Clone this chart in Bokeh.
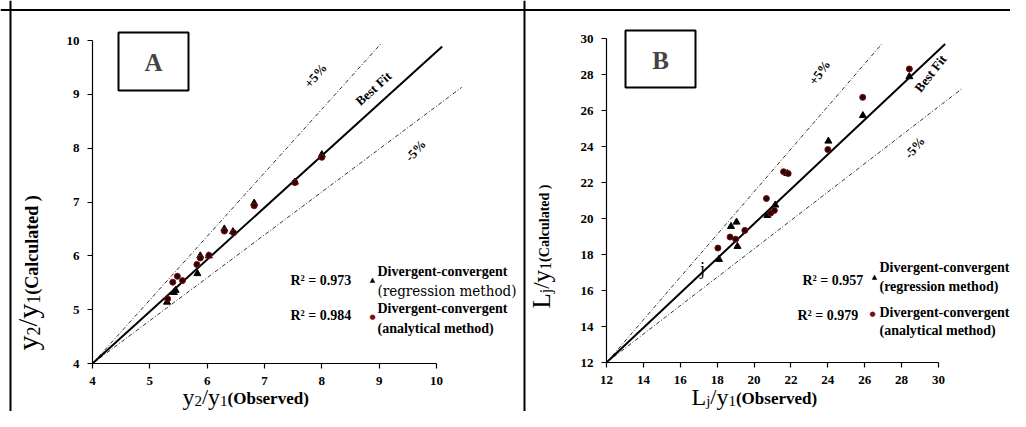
import math
from bokeh.plotting import figure
from bokeh.models import Range1d, LinearAxis, FixedTicker, Label, Span, BoxAnnotation
from bokeh.embed import file_html
from bokeh.resources import INLINE

# ---------------- data ----------------
a_ticks = [4, 5, 6, 7, 8, 9, 10]
b_ticks = [12, 14, 16, 18, 20, 22, 24, 26, 28, 30]

# Panel A : y2/y1  (regression method = triangles, analytical = circles)
a_reg_x = [5.30, 5.42, 5.45, 5.83, 5.88, 6.03, 6.30, 6.45, 6.82, 7.53, 8.00]
a_reg_y = [5.14, 5.32, 5.36, 5.67, 6.00, 6.00, 6.50, 6.45, 6.98, 7.37, 7.88]
a_ana_x = [5.31, 5.40, 5.48, 5.57, 5.82, 5.88, 6.03, 6.30, 6.46, 6.82, 7.53, 8.00]
a_ana_y = [5.20, 5.51, 5.62, 5.54, 5.84, 5.96, 6.01, 6.46, 6.43, 6.93, 7.36, 7.83]

# Panel B : Lj/y1
b_reg_x = [18.10, 18.75, 19.05, 19.10, 20.72, 21.15, 21.80, 24.03, 25.90, 28.42]
b_reg_y = [17.73, 19.56, 19.80, 18.45, 20.17, 20.75, 22.50, 24.30, 25.72, 27.88]
b_ana_x = [18.04, 18.70, 19.00, 19.50, 20.67, 20.90, 21.10, 21.60, 21.85, 24.00, 25.89, 28.42]
b_ana_y = [18.36, 18.97, 18.85, 19.34, 21.11, 20.30, 20.45, 22.60, 22.50, 23.83, 26.73, 28.31]

a_r2 = ["0.973", "0.984"]
b_r2 = ["0.957", "0.979"]

# reference lines (end points)
a_best_x, a_best_y = [4, 10.10], [4, 9.89]
a_plus_x, a_plus_y = [4, 9.03], [4, 9.94]
a_minus_x, a_minus_y = [4, 10.44], [4, 9.13]
b_best_x, b_best_y = [12, 30.36], [12, 29.69]
b_plus_x, b_plus_y = [12, 26.92], [12, 29.69]
b_minus_x, b_minus_y = [12, 31.32], [12, 27.25]

# ---------------- layout ----------------
W, H = 1010, 411
OX, OY = 0, 0          # offset of the canvas in the photographed picture


def hrange(v0, v1, p0, p1):
    s = (p1 - p0) / (v1 - v0)
    start = v0 - (p0 - OX) / s
    return start, start + W / s, s


def vrange(v0, v1, p0, p1):
    s = (p0 - p1) / (v1 - v0)
    top = v1 + (p1 - OY) / s
    return top - H / s, top, s


ax0, ax1, asx = hrange(4, 10, 92, 436)
ay0, ay1, asy = vrange(4, 10, 363, 40)
bx0, bx1, bsx = hrange(12, 30, 606, 938)
by0, by1, bsy = vrange(12, 30, 362, 38)


def X(px):
    return ax0 + (px - OX) / asx


def Y(py):
    return ay1 - (py - OY) / asy


p = figure(width=W, height=H, x_range=Range1d(ax0, ax1), y_range=Range1d(ay0, ay1),
           x_axis_type=None, y_axis_type=None, min_border=0,
           toolbar_location=None, output_backend="svg")
p.extra_x_ranges = {"bx": Range1d(bx0, bx1)}
p.extra_y_ranges = {"by": Range1d(by0, by1)}
p.outline_line_color = None
p.background_fill_color = "white"
p.border_fill_color = "white"

SERIF = "Liberation Serif"


def style_axis(ax):
    ax.axis_line_color = "black"
    ax.axis_line_width = 1.2
    ax.major_tick_line_color = "black"
    ax.major_tick_line_width = 1.2
    ax.major_tick_out = 5
    ax.major_tick_in = 0
    ax.minor_tick_out = 0
    ax.minor_tick_in = 0
    ax.major_label_text_font = SERIF
    ax.major_label_text_font_style = "bold"
    ax.major_label_text_font_size = "13px"
    ax.major_label_text_color = "black"
    ax.major_label_standoff = 8


# panel A axes
axA_x = LinearAxis(fixed_location=4, bounds=(4, 10), ticker=FixedTicker(ticks=a_ticks))
axA_y = LinearAxis(fixed_location=4, bounds=(4, 10), ticker=FixedTicker(ticks=a_ticks))
# panel B axes
axB_x = LinearAxis(fixed_location=12, bounds=(12, 30), ticker=FixedTicker(ticks=b_ticks),
                   x_range_name="bx", y_range_name="by")
axB_y = LinearAxis(fixed_location=12, bounds=(12, 30), ticker=FixedTicker(ticks=b_ticks),
                   x_range_name="bx", y_range_name="by")
for a in (axA_x, axA_y, axB_x, axB_y):
    style_axis(a)
p.add_layout(axA_x, "below")
p.add_layout(axA_y, "left")
p.add_layout(axB_x, "below")
p.add_layout(axB_y, "left")

DASH = "4 2 1 2"
LC = "#333333"
# panel A lines
p.line(a_plus_x, a_plus_y, line_color=LC, line_width=1, line_dash=DASH)
p.line(a_minus_x, a_minus_y, line_color=LC, line_width=1, line_dash=DASH)
p.line(a_best_x, a_best_y, line_color="black", line_width=2)
# panel B lines
p.line(b_plus_x, b_plus_y, line_color=LC, line_width=1, line_dash=DASH, x_range_name="bx", y_range_name="by")
p.line(b_minus_x, b_minus_y, line_color=LC, line_width=1, line_dash=DASH, x_range_name="bx", y_range_name="by")
p.line(b_best_x, b_best_y, line_color="black", line_width=2, x_range_name="bx", y_range_name="by")

RED_FILL = "#2a0404"
RED_LINE = "#7a1010"
p.scatter(a_reg_x, a_reg_y, marker="triangle", size=7, color="black")
p.scatter(a_ana_x, a_ana_y, marker="circle", size=6, fill_color=RED_FILL, line_color=RED_LINE)
p.scatter(b_reg_x, b_reg_y, marker="triangle", size=7, color="black", x_range_name="bx", y_range_name="by")
p.scatter(b_ana_x, b_ana_y, marker="circle", size=6, fill_color=RED_FILL, line_color=RED_LINE,
          x_range_name="bx", y_range_name="by")

# ---------------- frame lines ----------------
p.add_layout(Span(location=X(10), dimension="height", line_color="black", line_width=2))
p.add_layout(Span(location=X(524), dimension="height", line_color="black", line_width=2))
p.add_layout(Span(location=Y(9.5), dimension="width", line_color="black", line_width=2))

# panel letter boxes
for (l, r, t, b, letter) in [(118, 188, 32, 90, "A"), (625, 695, 30, 87, "B")]:
    p.add_layout(BoxAnnotation(left=X(l), right=X(r), top=Y(t), bottom=Y(b),
                               fill_color=None, fill_alpha=0, line_color="black",
                               line_alpha=1.0, line_width=2))
    p.add_layout(Label(x=X((l + r) / 2), y=Y((t + b) / 2 + 1), text=letter, text_font=SERIF,
                       text_font_style="bold", text_font_size="25px", text_align="center",
                       text_baseline="middle"))


def lab(px, py, text, size=13, style="bold", align="left", baseline="middle", angle=0.0,
        font=SERIF, color="black"):
    p.add_layout(Label(x=X(px), y=Y(py), text=text, text_font=font, text_font_style=style,
                       text_font_size=f"{size}px", text_align=align, text_baseline=baseline,
                       angle=math.radians(angle), text_color=color))


# line labels
lab(315, 75, "+5%", 13, align="center", angle=50)
lab(373, 88, "Best Fit", 13, align="center", angle=42)
lab(415, 150, "-5%", 13, align="center", angle=48)
lab(819, 72, "+5%", 13, align="center", angle=55)
lab(930, 73, "Best Fit", 13, align="center", angle=52)
lab(914, 147, "-5%", 13, align="center", angle=50)

# legends A
lab(290, 280, "R² = " + a_r2[0], 14)
lab(372, 279, "▲", 7, style="normal", align="center", font="DejaVu Sans")
lab(377, 271, "Divergent-convergent", 14)
lab(377, 290, "(regression method)", 15, style="normal", font="DejaVu Serif Condensed")
lab(290, 315, "R² = " + a_r2[1], 14)
lab(372, 316, "●", 7, style="normal", align="center", font="DejaVu Sans", color=RED_LINE)
lab(377, 308, "Divergent-convergent", 14)
lab(377, 328, "(analytical method)", 14)
# legends B
lab(802, 280, "R² = " + b_r2[0], 14)
lab(874, 276, "▲", 7, style="normal", align="center", font="DejaVu Sans")
lab(879, 267, "Divergent-convergent", 14)
lab(879, 286, "(regression  method)", 14)
lab(797, 315, "R² = " + b_r2[1], 14)
lab(872, 313, "●", 7, style="normal", align="center", font="DejaVu Sans", color=RED_LINE)
lab(879, 312, "Divergent-convergent", 14)
lab(879, 330, "(analytical method)", 14)

lab(702, 268, "j", 18, style="normal", align="center")

# ---------------- axis titles built from pieces ----------------
EM = {"y": .5, "/": .278, "L": .611, "j": .278, "(": .333, ")": .333, " ": .25, "O": .778,
      "b": .556, "s": .389, "e": .444, "r": .444, "v": .5, "d": .556, "C": .722, "a": .5,
      "l": .278, "c": .444, "u": .556, "t": .333}


def width(text, size):
    return sum(EM.get(ch, .5) for ch in text) * size


def title(pieces, px, py, vertical=False):
    """pieces are laid out along the baseline; py/px is the line's vertical middle"""
    adv = 0.0
    for text, size, style, dy in pieces:
        if vertical:
            x, y, ang = px + dy, py - adv, 90
        else:
            x, y, ang = px + adv, py + dy, 0
        lab(x, y, text, size, style=style, baseline="middle", angle=ang)
        adv += width(text, size)


title([("y", 24, "normal", 0), ("2", 15, "normal", 4), ("/", 22, "normal", 0),
       ("y", 24, "normal", 0), ("1", 15, "normal", 4), ("(Observed)", 17, "bold", 2)], 182, 396)
title([("y", 30, "normal", 0), ("2", 18, "normal", 6), ("/", 28, "normal", 0),
       ("y", 30, "normal", 0), ("1", 18, "normal", 6), ("(Calculated )", 18, "bold", 4)],
      27, 350, vertical=True)
title([("L", 24, "normal", 0), ("j", 15, "normal", 4), ("/", 22, "normal", 0),
       ("y", 24, "normal", 0), ("1", 15, "normal", 4), ("(Observed)", 17, "bold", 2)], 691, 396)
title([("L", 25, "normal", 0), ("j", 16, "normal", 4), ("/", 23, "normal", 0),
       ("y", 25, "normal", 0), ("1", 16, "normal", 4), (" (Calculated )", 14, "bold", 3)],
      541, 308, vertical=True)

open("out.html", "w").write(file_html(p, INLINE))
